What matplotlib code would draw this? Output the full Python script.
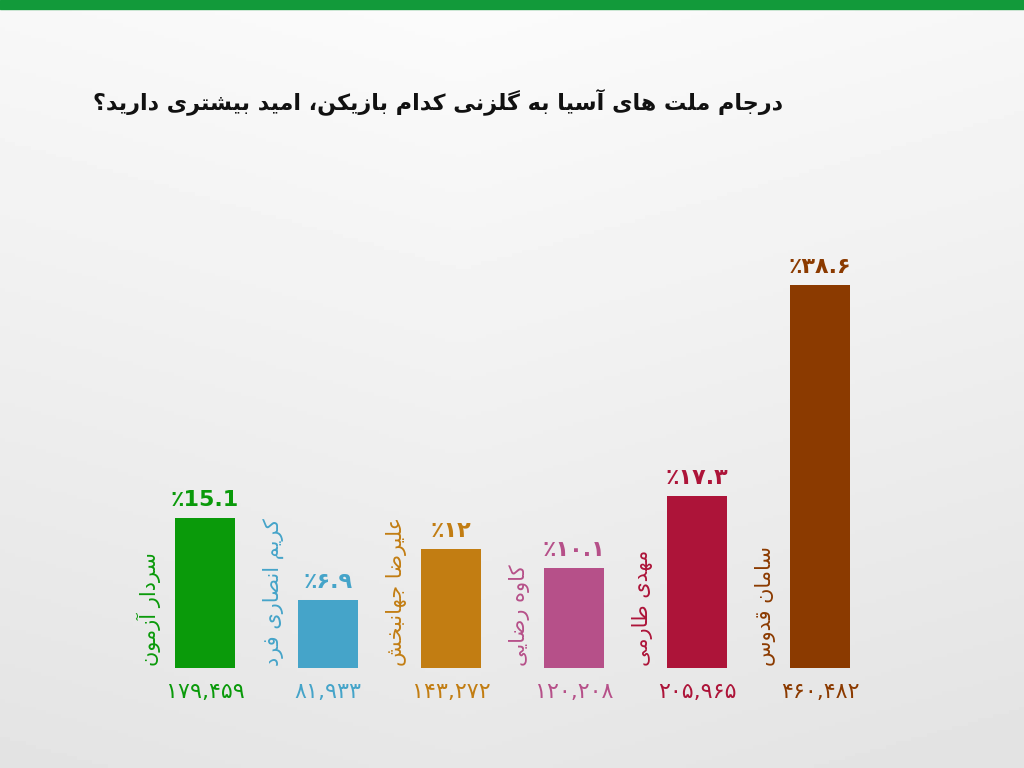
import matplotlib
matplotlib.use("Agg")
import matplotlib.pyplot as plt
import numpy as np

plt.rcParams['font.family'] = ['DejaVu Sans']

names = ['سردار آزمون', 'کریم انصاری فرد', 'علیرضا جهانبخش', 'کاوه رضایی', 'مهدی طارمی', 'سامان قدوس']
percents = [15.1, 6.9, 12, 10.1, 17.3, 38.6]
percent_labels = ['٪15.1', '٪۶.۹', '٪۱۲', '٪۱۰.۱', '٪۱۷.۳', '٪۳۸.۶']
votes = ['۱۷۹,۴۵۹', '۸۱,۹۳۳', '۱۴۳,۲۷۲', '۱۲۰,۲۰۸', '۲۰۵,۹۶۵', '۴۶۰,۴۸۲']
colors = ['#0a9a0a', '#45a4c9', '#c27d12', '#b65089', '#ad1439', '#8b3a00']
title = 'درجام ملت های آسیا به گلزنی کدام بازیکن، امید بیشتری دارید؟'

# small Persian shaper: presentation forms (isolated, final, initial, medial)
FOUR = {'ب': 0xFE8F, 'ت': 0xFE95, 'ث': 0xFE99, 'ج': 0xFE9D, 'ح': 0xFEA1, 'خ': 0xFEA5,
        'س': 0xFEB1, 'ش': 0xFEB5, 'ص': 0xFEB9, 'ض': 0xFEBD, 'ط': 0xFEC1, 'ظ': 0xFEC5,
        'ع': 0xFEC9, 'غ': 0xFECD, 'ف': 0xFED1, 'ق': 0xFED5, 'ل': 0xFEDD, 'م': 0xFEE1,
        'ن': 0xFEE5, 'ه': 0xFEE9, 'پ': 0xFB56, 'چ': 0xFB7A, 'ک': 0xFB8E, 'گ': 0xFB92,
        'ی': 0xFBFC}
TWO = {'ا': 0xFE8D, 'آ': 0xFE81, 'د': 0xFEA9, 'ذ': 0xFEAB, 'ر': 0xFEAD, 'ز': 0xFEAF,
       'و': 0xFEED, 'ژ': 0xFB8A}


def fa(s):
    out = []
    for k, ch in enumerate(s):
        prev = s[k - 1] if k > 0 else ''
        nxt = s[k + 1] if k + 1 < len(s) else ''
        join_prev = prev in FOUR
        if ch in FOUR:
            join_next = nxt in FOUR or nxt in TWO
            form = {(False, False): 0, (True, False): 1,
                    (False, True): 2, (True, True): 3}[(join_prev, join_next)]
            out.append(chr(FOUR[ch] + form))
        elif ch in TWO:
            out.append(chr(TWO[ch] + (1 if join_prev else 0)))
        else:
            out.append(ch)
    return ''.join(out)[::-1]


fig = plt.figure(figsize=(10.24, 7.68), dpi=100)

# background gradient
bg = fig.add_axes([0, 0, 1, 1])
yy = np.linspace(0, 1, 200)[:, None]
xx = np.linspace(0, 1, 200)[None, :]
grad = 0.985 - 0.08 * yy - 0.03 * np.abs(xx - 0.45)
bg.imshow(grad, cmap='gray', vmin=0, vmax=1, aspect='auto', extent=[0, 1, 0, 1])
bg.axhspan(0.988, 1, color='#129a3a')
bg.set_xlim(0, 1)
bg.set_ylim(0, 1)
bg.axis('off')

ax = fig.add_axes([0, 0, 1, 1])
ax.patch.set_alpha(0)
ax.set_xlim(-205 / 123, (1024 - 205) / 123)
ax.set_ylim(-100 / 9.92, 668 / 9.92)
ax.axis('off')

x = np.arange(len(names))
ax.bar(x, percents, width=0.49, color=colors)

for i in x:
    c = colors[i]
    ax.text(i, percents[i] + 0.8, percent_labels[i], ha='center', va='bottom',
            color=c, fontsize=16, fontweight='bold')
    ax.text(i, -1.4, votes[i], ha='center', va='top', color=c, fontsize=16)
    ax.text(i - 0.36, 0.2, fa(names[i]), rotation=90, ha='right', va='bottom',
            color=c, fontsize=15)

fig.text(0.428, 0.868, fa(title), ha='center', va='center', fontsize=16,
         fontweight='bold', color='#111111')

fig.savefig('out.png', dpi=100)
